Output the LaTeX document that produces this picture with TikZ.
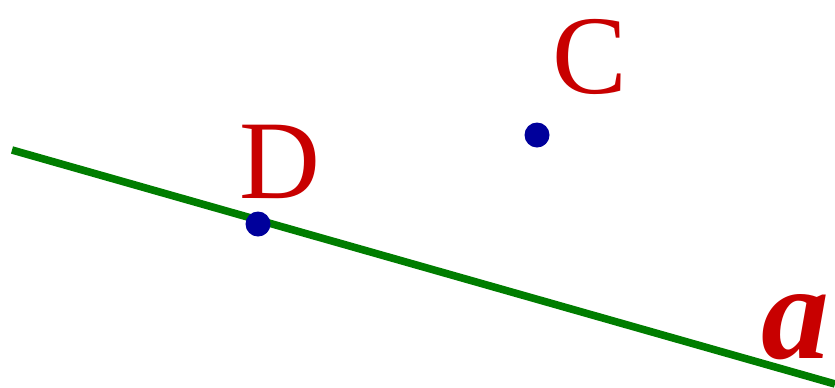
\documentclass[tikz,border=0pt]{standalone}
\usepackage{fontspec}
\setmainfont{Liberation Serif}
\usetikzlibrary{positioning}
\definecolor{ptred}{RGB}{200,0,0}
\definecolor{lngreen}{RGB}{0,125,0}
\definecolor{ptblue}{RGB}{0,0,155}
\tikzset{
  pt/.style={circle,fill=ptblue,inner sep=0pt,minimum size=12.5pt},
  ptlbl/.style={text=ptred,inner sep=0pt,font=\fontsize{56}{60}\selectfont},
  lnlbl/.style={text=ptred,inner sep=0pt,font=\fontsize{68}{72}\selectfont\bfseries\itshape},
  lnstyle/.style={draw=lngreen,line width=3.8pt},
}
\begin{document}
\begin{tikzpicture}[x=0.5pt,y=-0.5pt]
  \useasboundingbox (0,0) rectangle (835,387);
  % line a
  \coordinate (la) at (12,150);
  \coordinate (lb) at (835,384);
  \draw[lnstyle] (la) -- (lb);
  \node[lnlbl,anchor=base east] (alab) at (830,358) {a};
  % points
  \node[pt] (dpt) at (258,224) {};
  \node[pt] (cpt) at (537,135) {};
  \node[ptlbl,anchor=base] (dlab) at (280,198) {D};
  \node[ptlbl,anchor=base] (clab) at (590,93) {C};
\end{tikzpicture}
\end{document}
